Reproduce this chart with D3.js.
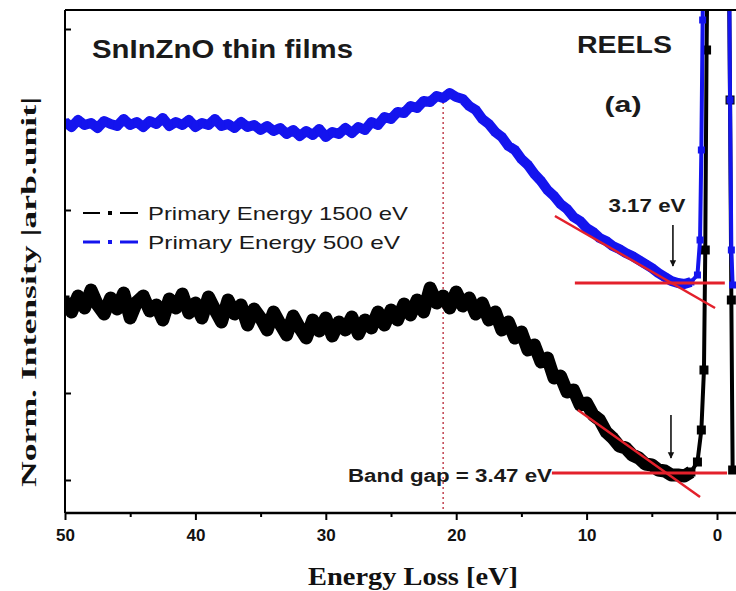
<!DOCTYPE html>
<html><head><meta charset="utf-8">
<script src="https://cdn.jsdelivr.net/npm/d3@7"></script>
<style>html,body{margin:0;padding:0;background:#fff;}svg{display:block;}</style>
</head><body><div id="chart"></div>
<script>
// ---- data (energy loss in eV, normalised intensity in arb. units) ----
const gridLoss = d3.range(50, 1.99, -0.5); // 50 ... 2 eV
const blueGrid = [391,386,393,388,390,385,392,389,387,394,388,391,386,392,389,395,387,391,388,393,
386,390,388,394,387,389,385,391,386,388,383,387,382,385,379,383,377,382,378,384,
376,381,379,385,380,386,383,391,388,396,394,401,400,407,405,412,411,417,415,420,
416,414,407,403,394,389,381,376,367,363,354,348,339,332,323,317,309,304,296,292,
285,281,275,272,267,264,260,257,253,249,245,240,236,232,230,229,231];
const bluePeakLoss = [1.5,1.3,1.2,1.1,1.0,0,-0.9,-1.0,-1.1,-1.2];
const bluePeakVal  = [238,273,363,493,613,900,613,413,263,228];
const blackGrid = [213,201,217,205,223,208,199,215,204,220,195,211,217,202,208,193,214,205,219,200,
210,195,216,203,191,213,199,208,188,204,195,183,201,189,178,197,185,175,193,182,
195,177,191,183,196,179,193,185,201,188,203,193,209,198,213,201,225,210,217,205,
221,207,215,199,210,193,201,183,191,175,181,163,168,151,155,135,137,121,123,108,
110,98,93,81,75,67,65,58,55,49,48,43,42,38,38,37,41];
const blackPeakLoss = [1.5,1.2,1.0,0.9,0.8,0.6,0,-0.8,-1.0,-1.1,-1.2];
const blackPeakVal  = [51,83,143,263,463,713,1000,713,413,213,43];
const xMajorTicks = [50,40,30,20,10,0];
const xMinorTicks = [45,35,25,15,5];
const yTicks = [33,120,303,484];
// band-gap construction lines [loss, intensity]
const upperBase = [[10.9,230],[-0.6,230]];
const upperFit  = [[12.43,297],[0.15,205]];
const lowerBase = [[12.66,40],[-0.77,40]];
const lowerFit  = [[10.67,103],[1.30,16]];
const upperArrow = [[3.38,288],[3.38,247]];
const lowerArrow = [[3.53,98],[3.53,55]];
const plasmonLoss = 21;
const plasmonTop = 416;
const legendLabels = ["Primary Energy 1500 eV","Primary Energy 500 eV"];

const blue = gridLoss.map((e,i)=>[e,blueGrid[i]]).concat(bluePeakLoss.map((e,i)=>[e,bluePeakVal[i]]));
const black = gridLoss.map((e,i)=>[e,blackGrid[i]]).concat(blackPeakLoss.map((e,i)=>[e,blackPeakVal[i]]));

const W=736,H=591, L=65, T=10, B=513, R=736;
const svg = d3.select("#chart").append("svg").attr("width",W).attr("height",H);
const x = d3.scaleLinear().domain([50,0]).range([65,717]);
const y = d3.scaleLinear().domain([0,503]).range([B,T]);

svg.append("clipPath").attr("id","clip").append("rect").attr("x",L).attr("y",T).attr("width",R-L).attr("height",B-T);
const g = svg.append("g").attr("clip-path","url(#clip)");

// plasmon dotted line
g.append("line").attr("x1",x(plasmonLoss)).attr("x2",x(plasmonLoss)).attr("y1",y(plasmonTop)).attr("y2",y(0))
 .attr("stroke","#c2414f").attr("stroke-width",1.5).attr("stroke-dasharray","2,3");

const line = d3.line().x(d=>x(d[0])).y(d=>y(d[1]));
function series(data,color,lw,ms,cut){
  // thick noisy band over the broad region, thin line over the elastic peak
  const band = data.filter(d=>d[0]>=cut);
  g.append("path").datum(band).attr("d",line).attr("fill","none").attr("stroke",color).attr("stroke-width",lw).attr("stroke-linejoin","round");
  g.append("path").datum(data.filter(d=>d[0]<=cut+0.5)).attr("d",line).attr("fill","none").attr("stroke",color).attr("stroke-width",4).attr("stroke-linejoin","round");
  g.selectAll(null).data(data).enter().append("rect")
   .attr("x",d=>x(d[0])-ms/2).attr("y",d=>y(d[1])-ms/2).attr("width",ms).attr("height",ms).attr("fill",color);
}
series(black,"#000",13,9,2);
series(blue,"#1414ee",10,7,2);

// red construction lines
const red = "#e3202b";
[[upperBase,3],[lowerBase,3],[upperFit,2.5],[lowerFit,2.5]].forEach(([p,w])=>{
  g.append("path").datum(p).attr("d",line).attr("stroke",red).attr("stroke-width",w).attr("fill","none");
});
// arrows
svg.append("defs").append("marker").attr("id","ah").attr("viewBox","0 0 10 10").attr("refX",9).attr("refY",5)
  .attr("markerWidth",4).attr("markerHeight",5).attr("orient","auto")
  .append("path").attr("d","M0,0L10,5L0,10Z").attr("fill","#111");
[upperArrow,lowerArrow].forEach(p=>{
  svg.append("path").datum(p).attr("d",line).attr("stroke","#111").attr("stroke-width",1.6).attr("fill","none").attr("marker-end","url(#ah)");
});

// axes
const ax = svg.append("g").attr("transform",`translate(0,${B})`);
ax.call(d3.axisBottom(x).tickValues(xMajorTicks).tickSize(7).tickPadding(6).tickFormat(d3.format("d")));
ax.select(".domain").remove();
ax.selectAll(".tick line").attr("stroke","#000").attr("stroke-width",2);
ax.selectAll(".tick text").attr("font-family","Liberation Sans, Arial, sans-serif").attr("font-weight","bold").attr("font-size",17).attr("fill","#111").attr("dy","0.9em");
const axm = svg.append("g").attr("transform",`translate(0,${B})`);
axm.call(d3.axisBottom(x).tickValues(xMinorTicks).tickSize(4).tickFormat(""));
axm.select(".domain").remove();
axm.selectAll(".tick line").attr("stroke","#000").attr("stroke-width",2);
const ay = svg.append("g").attr("transform",`translate(${L},0)`);
ay.call(d3.axisLeft(y).tickValues(yTicks).tickSize(-6).tickFormat(""));
ay.select(".domain").remove();
ay.selectAll(".tick line").attr("stroke","#000").attr("stroke-width",2);
svg.append("line").attr("x1",L).attr("x2",R).attr("y1",B).attr("y2",B).attr("stroke","#000").attr("stroke-width",2.5);
svg.append("line").attr("x1",L).attr("x2",R).attr("y1",T).attr("y2",T).attr("stroke","#000").attr("stroke-width",2);
svg.append("line").attr("x1",L).attr("x2",L).attr("y1",T).attr("y2",B).attr("stroke","#000").attr("stroke-width",2);

// titles
svg.append("text").attr("x",413).attr("y",585).attr("text-anchor","middle")
  .attr("font-family","Liberation Serif, Times New Roman, serif").attr("font-weight","bold").attr("font-size",25)
  .attr("textLength",210).attr("lengthAdjust","spacingAndGlyphs").attr("fill","#111").text("Energy Loss [eV]");
svg.append("text").attr("transform","translate(36,292) rotate(-90)").attr("text-anchor","middle")
  .attr("font-family","Liberation Serif, Times New Roman, serif").attr("font-weight","bold").attr("font-size",22)
  .attr("textLength",390).attr("lengthAdjust","spacingAndGlyphs").attr("fill","#111").text("Norm. Intensity |arb.unit|");

const sans = "Liberation Sans, Arial, sans-serif";
function txt(s,xx,yy,size,len,anchor,weight){
  const t = svg.append("text").attr("x",xx).attr("y",yy).attr("font-family",sans).attr("font-size",size)
   .attr("font-weight",weight||"bold").attr("fill","#1a1a1a").attr("text-anchor",anchor||"start").text(s);
  if(len) t.attr("textLength",len).attr("lengthAdjust","spacingAndGlyphs");
  return t;
}
txt("SnInZnO thin films",92,58,25,261);
txt("REELS",577,53,24,95);
txt("(a)",623,112,22,37,"middle");
txt("3.17 eV",647,212,18,77,"middle");
txt("Band gap = 3.47 eV",348,482,18,204);

// legend
const lg = svg.append("g");
[["#000",2],["#1414ee",3]].forEach(([c,w],i)=>{
  const yy = 213 + i*29;
  lg.append("line").attr("x1",83).attr("x2",100).attr("y1",yy).attr("y2",yy).attr("stroke",c).attr("stroke-width",w);
  lg.append("line").attr("x1",120).attr("x2",138).attr("y1",yy).attr("y2",yy).attr("stroke",c).attr("stroke-width",w);
  lg.append("rect").attr("x",108).attr("y",yy-2).attr("width",4).attr("height",4).attr("fill",c);
  lg.append("text").attr("x",148).attr("y",yy+7).attr("font-family",sans).attr("font-size",19).attr("fill","#1a1a1a")
    .attr("textLength",i==0?260:252).attr("lengthAdjust","spacingAndGlyphs").text(legendLabels[i]);
});
</script></body></html>
